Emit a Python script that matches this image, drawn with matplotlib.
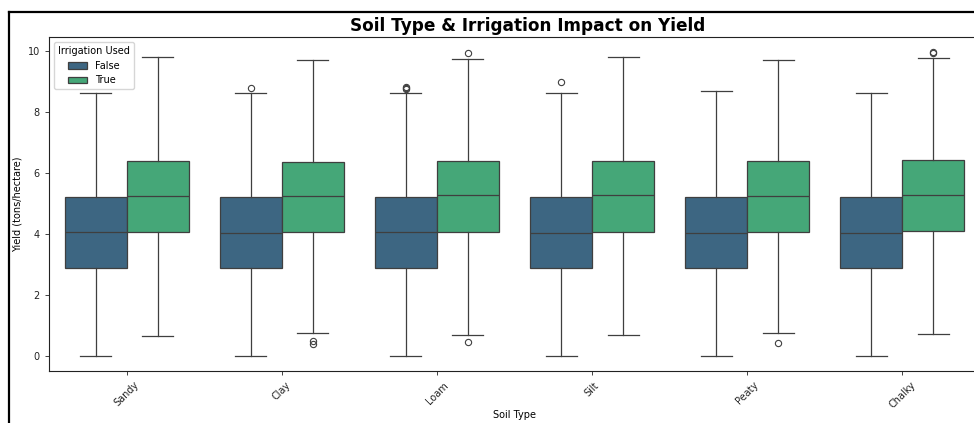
import matplotlib
matplotlib.use("Agg")
import matplotlib.pyplot as plt
from matplotlib.lines import Line2D
from matplotlib.patches import Patch

# ---- data ----
soil_types = ["Sandy", "Clay", "Loam", "Silt", "Peaty", "Chalky"]
hue_levels = ["False", "True"]

false_whislo = [0.0, 0.0, 0.0, 0.0, 0.0, 0.0]
false_q1     = [2.90, 2.88, 2.90, 2.88, 2.88, 2.88]
false_med    = [4.06, 4.03, 4.06, 4.05, 4.05, 4.05]
false_q3     = [5.22, 5.21, 5.22, 5.21, 5.21, 5.21]
false_whishi = [8.61, 8.63, 8.63, 8.63, 8.69, 8.63]
false_fliers = [[], [8.79], [8.75, 8.79, 8.83], [8.98], [], []]

true_whislo = [0.66, 0.75, 0.71, 0.69, 0.75, 0.72]
true_q1     = [4.08, 4.08, 4.08, 4.08, 4.08, 4.10]
true_med    = [5.25, 5.25, 5.27, 5.27, 5.25, 5.27]
true_q3     = [6.40, 6.38, 6.40, 6.40, 6.40, 6.43]
true_whishi = [9.79, 9.71, 9.75, 9.81, 9.71, 9.77]
true_fliers = [[], [0.49, 0.39], [9.95, 0.48], [], [0.45], [9.95, 9.97]]

title = "Soil Type & Irrigation Impact on Yield"
xlabel = "Soil Type"
ylabel = "Yield (tons/hectare)"
legend_title = "Irrigation Used"
yticks = [0, 2, 4, 6, 8, 10]

# ---- style ----
colors = ["#3d6682", "#45a778"]
line_col = "#3f3f3f"
lw = 0.9

fig = plt.figure(figsize=(9.74, 4.23), dpi=100)
W, H = 974, 423
ax = fig.add_axes([49 / W, 1 - 371 / H, (980 - 49) / W, (371 - 37) / H])

groups = [
    (false_whislo, false_q1, false_med, false_q3, false_whishi, false_fliers),
    (true_whislo, true_q1, true_med, true_q3, true_whishi, true_fliers),
]
offsets = [-0.2, 0.2]
for gi, (wl, q1, med, q3, wh, fl) in enumerate(groups):
    stats = []
    for i in range(len(soil_types)):
        stats.append(dict(whislo=wl[i], q1=q1[i], med=med[i], q3=q3[i],
                          whishi=wh[i], fliers=fl[i]))
    pos = [i + offsets[gi] for i in range(len(soil_types))]
    ax.bxp(stats, positions=pos, widths=0.4, patch_artist=True,
           showfliers=True,
           boxprops=dict(facecolor=colors[gi], edgecolor=line_col, linewidth=lw),
           medianprops=dict(color=line_col, linewidth=lw),
           whiskerprops=dict(color=line_col, linewidth=lw),
           capprops=dict(color=line_col, linewidth=lw),
           flierprops=dict(marker="o", markerfacecolor="none",
                           markeredgecolor=line_col, markersize=4.5,
                           markeredgewidth=0.8),
           capwidths=0.2)

ax.set_xlim(-0.5, len(soil_types) - 0.5)
ax.set_ylim(-0.48, 10.46)
ax.set_xticks(range(len(soil_types)))
ax.set_xticklabels(soil_types, rotation=45, ha="center", fontsize=7)
ax.set_yticks(yticks)
ax.set_yticklabels([str(t) for t in yticks], fontsize=7)
ax.tick_params(length=3, width=0.6, colors="#222222", labelcolor="#222222")
ax.set_xlabel(xlabel, fontsize=7)
ax.xaxis.set_label_coords(0.5, -0.118)
ax.set_ylabel(ylabel, fontsize=7)
for s in ax.spines.values():
    s.set_linewidth(0.8)
    s.set_color("#222222")

handles = [Patch(facecolor=colors[0], edgecolor=line_col, linewidth=lw, label=hue_levels[0]),
           Patch(facecolor=colors[1], edgecolor=line_col, linewidth=lw, label=hue_levels[1])]
leg = ax.legend(handles=handles, title=legend_title, loc="upper left",
                fontsize=7, title_fontsize=7, frameon=True, borderaxespad=0.5)

fig.text(528 / W, 1 - 26 / H, title, ha="center", va="center",
         fontsize=12.2, fontweight="bold")

# screenshot frame lines
fig.add_artist(Line2D([9 / W, 9 / W], [0, 1 - 12 / H], color="black", linewidth=1.6))
fig.add_artist(Line2D([9 / W, 1], [1 - 12.5 / H, 1 - 12.5 / H], color="black", linewidth=1.6))

fig.savefig("out.png", dpi=100)
